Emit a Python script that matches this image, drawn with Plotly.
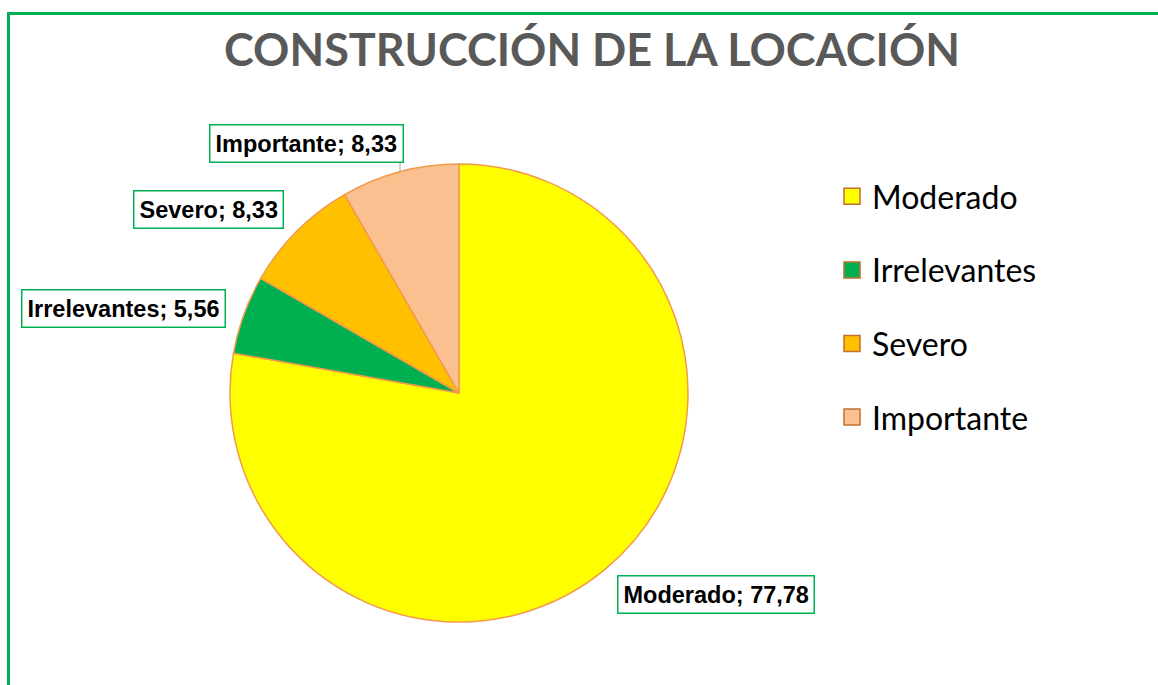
import plotly.graph_objects as go

# Category shares (percent)
categorias = ["Moderado", "Irrelevantes", "Severo", "Importante"]
valores = [77.78, 5.56, 8.33, 8.33]
colores = ["#FFFF00", "#00B050", "#FFC000", "#FAC090"]

W, H = 1158, 685
cx, cy, r = 459, 393, 229  # pie centre and radius in pixels


def fmt(v):
    return f"{v:.2f}".replace(".", ",")


fig = go.Figure()

fig.add_trace(go.Pie(
    labels=categorias,
    values=valores,
    sort=False,
    direction="clockwise",
    rotation=0,
    marker=dict(colors=colores, line=dict(color="#F39A4A", width=1.5)),
    textinfo="none",
    hoverinfo="label+value",
    showlegend=False,
    domain=dict(x=[(cx - r) / W, (cx + r) / W],
                y=[(H - cy - r) / H, (H - cy + r) / H]),
))

# Legend entries drawn as square swatches
for i, (cat, col) in enumerate(zip(categorias, colores)):
    fig.add_trace(go.Scatter(
        x=[None], y=[None], mode="markers", name=cat,
        legendgroup=f"g{i}",
        marker=dict(symbol="square", size=16, color=col,
                    line=dict(color="#C07030", width=1.5)),
    ))

# Data labels in boxed callouts
label_pos = {
    "Moderado": (716, 594),
    "Irrelevantes": (123, 308),
    "Severo": (208, 209),
    "Importante": (306, 143),
}
for cat, v in zip(categorias, valores):
    px, py = label_pos[cat]
    fig.add_annotation(
        x=px / W, y=1 - py / H, xref="paper", yref="paper",
        text=f"<b>{cat}; {fmt(v)}</b>", showarrow=False,
        font=dict(family="Liberation Sans, Arial", size=23.5, color="#000000"),
        bgcolor="#FFFFFF", bordercolor="#00B050", borderwidth=1.5, borderpad=5,
        xanchor="center", yanchor="middle",
    )

shapes = [
    # leader line for the Importante label
    dict(type="line", xref="paper", yref="paper",
         x0=400 / W, x1=400 / W, y0=1 - 161 / H, y1=1 - 172 / H,
         line=dict(color="#A6A6A6", width=1)),
    # outer frame
    dict(type="rect", xref="paper", yref="paper",
         x0=8.5 / W, x1=1.02, y0=-0.02, y1=1 - 13.5 / H,
         line=dict(color="#00B050", width=3), layer="below"),
]

fig.update_layout(
    width=W, height=H,
    margin=dict(l=0, r=0, t=0, b=0),
    paper_bgcolor="#FFFFFF", plot_bgcolor="#FFFFFF",
    title=dict(text="<b>CONSTRUCCIÓN DE LA LOCACIÓN</b>",
               x=592 / W, xanchor="center", y=1 - 50 / H, yanchor="middle",
               font=dict(family="Lato", size=45, color="#595959")),
    xaxis=dict(visible=False), yaxis=dict(visible=False),
    legend=dict(x=832 / W, y=1 - 169 / H, xanchor="left", yanchor="top",
                font=dict(family="Lato", size=32, color="#000000"),
                traceorder="grouped", tracegroupgap=29,
                itemsizing="trace", bgcolor="rgba(0,0,0,0)"),
    shapes=shapes,
)

fig.write_html("out.html")
